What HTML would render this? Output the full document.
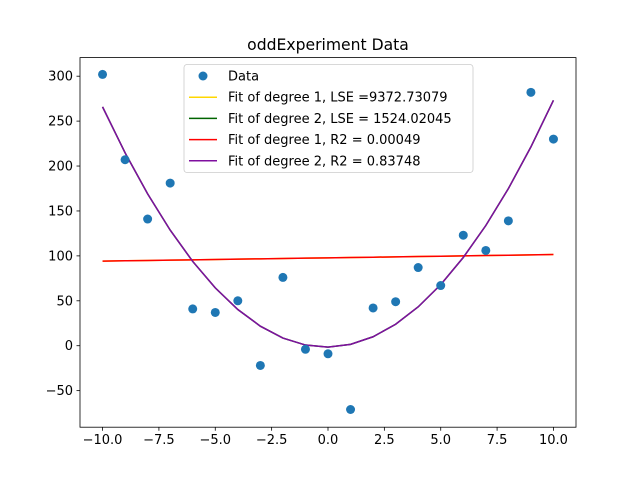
<!DOCTYPE html>
<html><head><meta charset="utf-8"><style>
body{margin:0;background:#fff}
svg{font-family:"DejaVu Sans","Liberation Sans",sans-serif}
</style></head><body>
<svg id="chart" width="640" height="480" viewBox="0 0 640 480" xmlns="http://www.w3.org/2000/svg">
<rect width="640" height="480" fill="#fff"/>
<text x="328" y="50" text-anchor="middle" font-size="15.6">oddExperiment Data</text>
<g id="plot"></g>
<rect x="80" y="57.6" width="496" height="369.6" fill="none" stroke="#000" stroke-width="0.8"/>
<g id="axes"></g>
<g id="legend"></g>
</svg>
<script>
const xVals=[-10,-9,-8,-7,-6,-5,-4,-3,-2,-1,0,1,2,3,4,5,6,7,8,9,10];
const yVals=[302,207,141,181,41,37,50,-22,76,-4,-9,-71,42,49,87,67,123,106,139,282,230];
const xTicks=[-10,-7.5,-5,-2.5,0,2.5,5,7.5,10];
const xTickLabels=["−10.0","−7.5","−5.0","−2.5","0.0","2.5","5.0","7.5","10.0"];
const yTicks=[-50,0,50,100,150,200,250,300];
const yTickLabels=["−50","0","50","100","150","200","250","300"];
const legendLabels=["Data","Fit of degree 1, LSE =9372.73079","Fit of degree 2, LSE = 1524.02045","Fit of degree 1, R2 = 0.00049","Fit of degree 2, R2 = 0.83748"];

const NS="http://www.w3.org/2000/svg";
const X0=80,X1=576,Y0=427.2,Y1=57.6;
const xmin=-11,xmax=11,ymin=-90.7,ymax=320.7;
const sx=v=>X0+(v-xmin)/(xmax-xmin)*(X1-X0);
const sy=v=>Y0-(v-ymin)/(ymax-ymin)*(Y0-Y1);
function mk(tag,attrs,parent){const e=document.createElementNS(NS,tag);for(const k in attrs)e.setAttribute(k,attrs[k]);parent.appendChild(e);return e;}
function solve(A,b){const n=b.length;A=A.map((r,i)=>[...r,b[i]]);for(let i=0;i<n;i++){let p=i;for(let j=i+1;j<n;j++)if(Math.abs(A[j][i])>Math.abs(A[p][i]))p=j;[A[i],A[p]]=[A[p],A[i]];for(let j=0;j<n;j++)if(j!==i){const f=A[j][i]/A[i][i];for(let k=i;k<=n;k++)A[j][k]-=f*A[i][k];}}return A.map((r,i)=>r[n]/r[i]);}
function polyfit(deg){const n=deg+1;const A=[],b=[];for(let i=0;i<n;i++){A.push([]);for(let j=0;j<n;j++)A[i].push(xVals.reduce((s,x)=>s+Math.pow(x,i+j),0));b.push(xVals.reduce((s,x,k)=>s+Math.pow(x,i)*yVals[k],0));}return solve(A,b);}
const ev=(c,x)=>c.reduce((s,ci,i)=>s+ci*Math.pow(x,i),0);
const plot=document.getElementById('plot'),axes=document.getElementById('axes'),leg=document.getElementById('legend');
const c1=polyfit(1),c2=polyfit(2);
function line(c,color,name){const pts=xVals.map(x=>sx(x).toFixed(2)+","+sy(ev(c,x)).toFixed(2)).join(" ");const l=mk('polyline',{points:pts,fill:'none',stroke:color,'stroke-width':1.5},plot);

}
line(c1,'#ffd700','fit-degree1-lse');line(c2,'#006400','fit-degree2-lse');line(c1,'#ff0000','fit-degree1-r2');line(c2,'#7f0f9f','fit-degree2-r2');
xVals.forEach((x,i)=>{const p=mk('circle',{cx:sx(x),cy:sy(yVals[i]),r:4.5,fill:'#1f77b4'},plot);

});
xTicks.forEach((t,i)=>{mk('line',{x1:sx(t),x2:sx(t),y1:Y0,y2:Y0+3.5,stroke:'#000','stroke-width':0.8},axes);const tx=mk('text',{x:sx(t),y:Y0+17,'text-anchor':'middle','font-size':13},axes);tx.textContent=xTickLabels[i];

});
yTicks.forEach((t,i)=>{mk('line',{x1:X0-3.5,x2:X0,y1:sy(t),y2:sy(t),stroke:'#000','stroke-width':0.8},axes);const tx=mk('text',{x:X0-7,y:sy(t)+4.5,'text-anchor':'end','font-size':13},axes);tx.textContent=yTickLabels[i];

});
mk('rect',{x:184,y:64.5,width:289,height:108,rx:3,fill:'#fff','fill-opacity':0.8,stroke:'#ccc','stroke-width':0.8},leg);
const colors=[null,'#ffd700','#006400','#ff0000','#7f0f9f'];
legendLabels.forEach((lab,i)=>{const y=76+i*21.2;
if(i===0)mk('circle',{cx:203,cy:y,r:4.5,fill:'#1f77b4'},leg);else mk('line',{x1:189,x2:217,y1:y,y2:y,stroke:colors[i],'stroke-width':1.5},leg);
const t=mk('text',{x:228,y:y+4.5,'font-size':13},leg);t.textContent=lab;

});
</script>
</body></html>
